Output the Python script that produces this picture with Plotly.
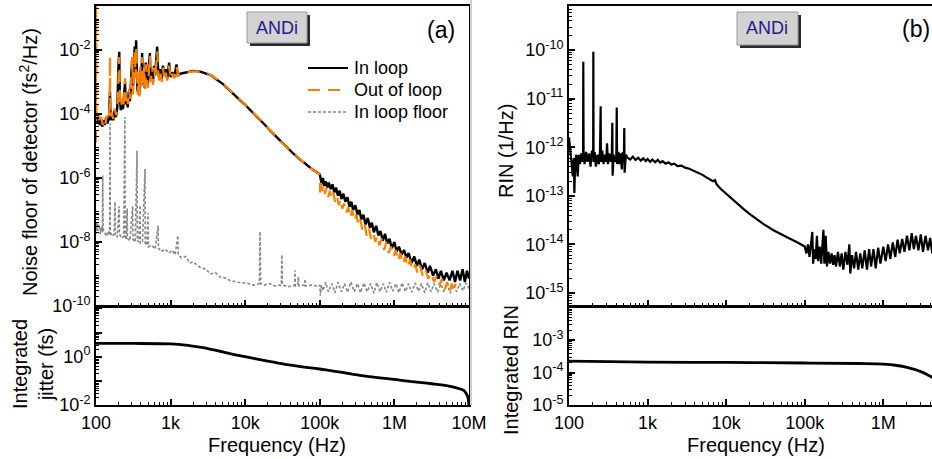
import plotly.graph_objects as go

# ---- panel (a): noise floor of detector (fs^2/Hz) ----
f_in_loop = [100, 104, 108, 112, 116, 121, 126, 131, 137, 143, 150, 154, 157, 163, 170, 178, 185, 193,
             200, 205, 209, 215, 222, 230, 238, 245, 250, 258, 266, 275, 285, 295, 305, 312, 320, 330,
             338, 345, 352, 360, 370, 380, 392, 405, 415, 425, 440, 452, 465, 480, 495, 510, 527, 540,
             560, 580, 600, 620, 645, 660, 675, 700, 730, 760, 790, 820, 860, 900, 955, 1000, 1050,
             1120, 1200, 1250, 1350, 1500, 1700, 2000, 2500, 3000, 3500, 4000, 5000, 6000, 7000, 8500,
             1e4, 1.25e4, 1.5e4, 1.9e4, 2.3e4, 2.9e4, 3.5e4, 4.4e4, 5.4e4, 6.6e4, 8.1e4, 1e5,
             1.02e5, 1.06e5, 1.1e5, 1.15e5, 1.2e5, 1.26e5, 1.32e5, 1.4e5, 1.48e5, 1.56e5, 1.65e5,
             1.75e5, 1.85e5, 1.95e5, 2.07e5, 2.2e5, 2.35e5, 2.5e5, 2.65e5, 2.8e5, 3.0e5, 3.2e5, 3.4e5,
             3.6e5, 3.85e5, 4.1e5, 4.4e5, 4.7e5, 5.0e5, 5.3e5, 5.7e5, 6.1e5, 6.5e5, 7.0e5, 7.5e5,
             8.0e5, 8.6e5, 9.2e5, 1.0e6, 1.07e6, 1.15e6, 1.25e6, 1.35e6, 1.45e6, 1.55e6, 1.7e6,
             1.85e6, 2.0e6, 2.15e6, 2.35e6, 2.55e6, 2.8e6, 3.0e6, 3.3e6, 3.6e6, 3.9e6, 4.2e6, 4.6e6,
             5.0e6, 5.5e6, 6.0e6, 6.5e6, 7.0e6, 7.6e6, 8.2e6, 8.8e6, 9.4e6, 1.0e7]
psd_in_loop = [1.0e-4, 5.0e-5, 7.9e-5, 4.5e-5, 7.1e-5, 4.0e-5, 6.3e-5, 4.5e-5, 7.9e-5, 5.0e-5, 8.9e-5,
               5.0e-4, 6.3e-5, 1.0e-4, 6.3e-5, 1.3e-4, 7.9e-5, 1.6e-4, 3.2e-3, 8.7e-3, 3.2e-4, 1.3e-4,
               2.5e-4, 1.4e-4, 4.0e-4, 1.0e-3, 2.0e-4, 3.2e-4, 1.6e-4, 5.0e-4, 2.5e-4, 1.0e-3, 5.0e-3,
               5.0e-4, 2.5e-3, 1.26e-2, 1.6e-3, 2.0e-2, 3.2e-3, 5.0e-4, 1.26e-3, 4.0e-4, 2.5e-3, 7.9e-4,
               7.9e-3, 1.0e-3, 2.5e-3, 6.3e-4, 4.0e-3, 1.26e-3, 7.9e-4, 2.5e-3, 7.9e-3, 1.26e-3, 2.0e-3,
               1.0e-3, 3.2e-3, 1.6e-3, 6.3e-3, 1.26e-2, 3.2e-3, 1.4e-3, 2.5e-3, 1.26e-3, 3.2e-3, 1.6e-3,
               2.5e-3, 1.26e-3, 4.0e-3, 1.4e-3, 2.0e-3, 1.4e-3, 3.5e-3, 1.6e-3, 1.8e-3, 1.9e-3, 2.1e-3,
               2.2e-3, 2.1e-3, 1.85e-3, 1.6e-3, 1.26e-3, 8.7e-4, 5.8e-4, 4.0e-4, 2.7e-4,
               1.9e-4, 1.15e-4, 7.4e-5, 4.2e-5, 2.6e-5, 1.5e-5, 9.3e-6, 5.8e-6, 3.8e-6, 2.6e-6, 1.8e-6,
               1.3e-6,
               8.9e-7, 6.3e-7, 1.0e-6, 5.6e-7, 7.9e-7, 5.0e-7, 7.1e-7, 4.5e-7, 6.3e-7, 3.5e-7, 5.0e-7,
               2.8e-7, 4.0e-7, 2.2e-7, 3.2e-7, 1.8e-7, 2.5e-7, 1.26e-7, 1.8e-7, 1.0e-7, 1.4e-7, 7.1e-8,
               1.0e-7, 5.0e-8, 7.1e-8, 3.5e-8, 5.6e-8, 2.8e-8, 4.0e-8, 2.0e-8, 3.2e-8, 1.6e-8, 2.2e-8,
               1.1e-8, 1.8e-8, 8.9e-9, 1.26e-8, 6.3e-9, 1.0e-8, 5.0e-9, 7.1e-9, 4.0e-9, 5.6e-9, 3.2e-9,
               4.5e-9, 2.2e-9, 3.5e-9, 1.8e-9, 2.8e-9, 1.4e-9, 2.2e-9, 1.1e-9, 1.8e-9, 8.9e-10, 1.4e-9,
               7.1e-10, 1.26e-9, 6.3e-10, 1.1e-9, 6.3e-10, 1.26e-9, 5.6e-10, 1.26e-9, 6.3e-10, 1.4e-9,
               5.6e-10, 1.26e-9, 7.1e-10]

f_out_loop = [100, 100.5, 101.5, 105, 109, 113, 118, 123, 128, 134, 140, 147, 152, 154, 156, 162, 170,
              178, 186, 194, 200, 205, 210, 216, 224, 232, 240, 246, 252, 260, 268, 277, 287, 297, 306,
              314, 322, 331, 340, 347, 354, 362, 372, 382, 394, 407, 417, 427, 442, 455, 467, 482, 497,
              512, 528, 542, 562, 582, 602, 622, 647, 662, 677, 702, 732, 762, 792, 822, 862, 902, 957,
              1002, 1055, 1125, 1205, 1260, 1350, 1500, 1700, 2000, 2500, 3000, 3500, 4000, 5000, 6000,
              7000, 8500, 1e4, 1.25e4, 1.5e4, 1.9e4, 2.3e4, 2.9e4, 3.5e4, 4.4e4, 5.4e4, 6.6e4, 8.1e4,
              1e5, 1.01e5,
              1.03e5, 1.07e5, 1.12e5, 1.17e5, 1.23e5, 1.29e5, 1.36e5, 1.44e5, 1.52e5, 1.6e5, 1.7e5,
              1.8e5, 1.9e5, 2.0e5, 2.12e5, 2.26e5, 2.4e5, 2.55e5, 2.72e5, 2.9e5, 3.1e5, 3.3e5, 3.5e5,
              3.75e5, 4.0e5, 4.25e5, 4.55e5, 4.85e5, 5.2e5, 5.55e5, 5.9e5, 6.3e5, 6.8e5, 7.3e5, 7.8e5,
              8.4e5, 9.0e5, 9.7e5, 1.04e6, 1.12e6, 1.2e6, 1.3e6, 1.4e6, 1.5e6, 1.62e6, 1.75e6, 1.9e6,
              2.05e6, 2.2e6, 2.4e6, 2.6e6, 2.85e6, 3.1e6, 3.4e6, 3.7e6, 4.0e6, 4.35e6, 4.7e6, 5.1e6,
              5.5e6, 5.9e6, 6.3e6, 6.6e6]
psd_out_loop = [1.3e-5, 0.3, 1.2e-4, 6.0e-5, 1.0e-4, 5.0e-5, 8.0e-5, 4.5e-5, 7.0e-5, 5.0e-5, 9.0e-5,
                6.0e-5, 1.5e-4, 6.0e-3, 8.0e-5, 1.1e-4, 7.0e-5, 1.5e-4, 9.0e-5, 2.0e-4, 2.5e-3, 6.0e-3,
                2.5e-4, 1.6e-4, 3.0e-4, 1.5e-4, 5.0e-4, 1.3e-3, 2.5e-4, 4.0e-4, 2.0e-4, 6.0e-4, 3.0e-4,
                1.5e-3, 6.0e-3, 4.0e-4, 3.0e-3, 1.0e-2, 1.3e-3, 1.3e-2, 2.5e-3, 4.0e-4, 1.5e-3, 3.5e-4,
                3.0e-3, 6.0e-4, 6.0e-3, 8.0e-4, 3.0e-3, 5.0e-4, 3.5e-3, 1.0e-3, 6.5e-4, 2.2e-3, 6.5e-3,
                1.0e-3, 1.8e-3, 8.0e-4, 2.8e-3, 1.3e-3, 5.0e-3, 9.0e-3, 2.5e-3, 1.1e-3, 2.0e-3, 1.0e-3,
                2.8e-3, 1.3e-3, 2.0e-3, 1.1e-3, 3.2e-3, 1.2e-3, 1.8e-3, 1.3e-3, 3.0e-3, 1.5e-3, 1.75e-3,
                1.85e-3, 2.05e-3, 2.15e-3, 2.1e-3, 1.85e-3, 1.6e-3, 1.3e-3, 9.0e-4, 6.0e-4, 4.1e-4,
                2.8e-4, 1.95e-4, 1.18e-4, 7.6e-5, 4.3e-5, 2.6e-5, 1.5e-5, 9.5e-6, 5.9e-6, 3.8e-6,
                2.6e-6, 1.8e-6, 1.3e-6, 3.5e-7,
                7.1e-7, 4.0e-7, 6.3e-7, 3.2e-7, 5.0e-7, 2.5e-7, 4.0e-7, 2.2e-7, 3.5e-7, 1.8e-7, 2.8e-7,
                1.4e-7, 2.2e-7, 1.1e-7, 1.6e-7, 7.9e-8, 1.26e-7, 5.6e-8, 1.0e-7, 4.5e-8, 7.1e-8, 3.2e-8,
                5.0e-8, 2.2e-8, 3.5e-8, 1.6e-8, 2.8e-8, 1.26e-8, 2.0e-8, 1.0e-8, 1.6e-8, 7.9e-9, 1.26e-8,
                5.6e-9, 1.0e-8, 4.5e-9, 7.1e-9, 3.5e-9, 5.6e-9, 2.5e-9, 4.5e-9, 2.0e-9, 3.5e-9, 1.6e-9,
                2.8e-9, 1.26e-9, 2.0e-9, 1.0e-9, 1.8e-9, 8.9e-10, 1.4e-9, 7.1e-10, 1.1e-9, 5.6e-10,
                8.9e-10, 4.5e-10, 7.1e-10, 3.2e-10, 5.6e-10, 2.8e-10, 5.0e-10, 2.8e-10, 5.0e-10]

f_floor = [100, 101, 103, 106, 110, 114, 118, 122, 123, 124.5, 130, 138, 146, 153, 154, 155.5, 165, 175,
           180, 182, 193, 204, 206, 220, 235, 244, 246, 255, 262, 264, 285, 310, 313, 335, 355, 358,
           375, 390, 393, 420, 454, 457, 480, 500, 504, 560, 620, 680, 685, 750, 850, 950, 1050, 1150,
           1250, 1265, 1400, 1600, 1800, 2000, 2500, 3000, 3400, 4000, 4600, 5500, 6200, 8000, 10500,
           13000, 15500, 15800, 16100, 18000, 21000, 25000, 30500, 31000, 31500, 38000, 46000, 46500,
           47000, 51000, 51500, 52000, 63000, 63500, 64000, 80000, 95000, 1e5, 1.02e5, 1.05e5,
           1.1e5, 1.2e5, 1.3e5, 1.45e5, 1.6e5, 1.75e5, 1.95e5, 2.15e5, 2.35e5, 2.6e5, 2.9e5, 3.2e5,
           3.5e5, 3.9e5, 4.3e5, 4.8e5, 5.3e5, 5.8e5, 6.4e5, 7.1e5, 7.8e5, 8.6e5, 9.5e5, 1.05e6,
           1.15e6, 1.27e6, 1.4e6, 1.55e6, 1.7e6, 1.9e6, 2.1e6, 2.3e6, 2.55e6, 2.8e6, 3.1e6, 3.4e6,
           3.8e6, 4.2e6, 4.6e6, 5.1e6, 5.6e6, 6.2e6, 6.8e6, 7.5e6, 8.3e6, 9.1e6, 1.0e7]
psd_floor = [3.0e-8, 1.8e-8, 4.0e-8, 2.2e-8, 3.5e-8, 1.8e-8, 3.0e-8, 2.0e-8, 1.2e-6, 2.5e-8, 2.0e-8,
             1.5e-8, 2.2e-8, 1.6e-8, 5.0e-5, 2.0e-8, 1.5e-8, 1.8e-8, 1.8e-7, 1.6e-8, 1.4e-8, 1.3e-7,
             1.8e-8, 1.3e-8, 1.5e-8, 8.0e-5, 1.4e-8, 1.2e-8, 1.1e-7, 1.3e-8, 1.1e-8, 1.3e-7, 1.2e-8,
             1.0e-8, 7.0e-6, 1.1e-8, 1.0e-8, 1.4e-7, 9.0e-9, 1.0e-8, 1.9e-6, 8.0e-9, 9.0e-9, 8.0e-8,
             7.0e-9, 8.0e-9, 6.0e-9, 3.2e-8, 6.5e-9, 5.0e-9, 6.0e-9, 4.5e-9, 5.5e-9, 4.0e-9, 1.6e-8,
             4.0e-9, 3.2e-9, 3.5e-9, 2.2e-9, 2.4e-9, 1.6e-9, 1.4e-9, 1.0e-9, 1.1e-9, 8.0e-10, 7.5e-10,
             6.3e-10, 5.5e-10, 5.2e-10, 4.5e-10, 5.0e-10, 2.1e-8, 5.0e-10, 4.5e-10, 5.0e-10, 4.2e-10,
             4.5e-10, 4.0e-9, 4.5e-10, 4.0e-10, 4.5e-10, 1.3e-9, 4.2e-10, 4.5e-10, 8.0e-10, 4.3e-10,
             4.5e-10, 7.0e-10, 4.2e-10, 4.5e-10, 4.0e-10, 4.5e-10, 2.1e-10, 4.5e-10,
             3.0e-10, 5.5e-10, 2.8e-10, 5.0e-10, 2.6e-10, 5.5e-10, 2.8e-10, 5.0e-10, 2.7e-10, 5.6e-10,
             2.8e-10, 5.0e-10, 2.6e-10, 5.3e-10, 2.8e-10, 5.0e-10, 2.5e-10, 5.4e-10, 2.8e-10, 5.0e-10,
             2.7e-10, 5.5e-10, 2.9e-10, 5.0e-10, 2.6e-10, 5.3e-10, 2.8e-10, 5.0e-10, 2.7e-10, 5.2e-10,
             2.9e-10, 5.0e-10, 2.6e-10, 5.3e-10, 2.8e-10, 5.0e-10, 2.7e-10, 4.8e-10, 2.8e-10, 5.0e-10,
             2.5e-10, 4.5e-10, 2.8e-10, 5.0e-10, 3.0e-10, 5.2e-10, 3.5e-10]

f_jitter = [100, 316, 1000, 1585, 2000, 3160, 5000, 7080, 1e4, 1.4e4, 2e4, 3.16e4, 5e4, 7e4, 1e5, 1.4e5,
            2e5, 3.16e5, 5e5, 7e5, 1e6, 1.4e6, 2e6, 3.16e6, 5e6, 7e6, 8.5e6, 9.3e6, 9.7e6, 9.9e6, 1e7]
jitter = [3.55, 3.55, 3.39, 3.05, 2.75, 2.19, 1.58, 1.23, 1.0, 0.81, 0.66, 0.51, 0.41, 0.355, 0.31, 0.263,
          0.224, 0.178, 0.145, 0.129, 0.115, 0.1, 0.089, 0.076, 0.063, 0.05, 0.04, 0.028, 0.02, 0.0126,
          0.0063]

# ---- panel (b): RIN ----
f_rin = [100, 104, 108, 112, 115, 117, 120, 124, 127, 129, 133, 138, 143, 148, 151, 152, 153.5, 158,
         165, 172, 180, 188, 196, 203, 204, 205.5, 212, 220, 230, 240, 248, 253, 255, 265, 275, 287,
         297, 305, 313, 325, 340, 350, 356, 359, 370, 385, 400, 405, 410, 425, 440, 455, 470, 485,
         500, 505, 510, 530, 550, 600, 650, 700, 760, 820, 880, 950, 1000, 1080, 1150, 1250, 1350,
         1450, 1550, 1700, 1850, 2000, 2200, 2400, 2700, 3000, 3400, 3800, 4300, 5000, 5600, 6200,
         6800, 7200, 7600, 8500, 1e4, 1.2e4, 1.4e4, 1.7e4, 2e4, 2.5e4, 3e4, 4e4, 5e4, 6.5e4, 8e4,
         1e5,
         1.05e5, 1.1e5, 1.15e5, 1.2e5, 1.25e5, 1.28e5, 1.33e5, 1.38e5, 1.43e5, 1.48e5, 1.55e5,
         1.62e5, 1.68e5, 1.73e5, 1.78e5, 1.85e5, 1.92e5, 2.0e5, 2.1e5, 2.2e5, 2.3e5, 2.4e5, 2.5e5,
         2.65e5, 2.8e5, 2.95e5, 3.1e5, 3.3e5, 3.5e5, 3.7e5, 3.8e5, 4.0e5, 4.25e5, 4.5e5, 4.8e5,
         5.1e5, 5.4e5, 5.8e5, 6.2e5, 6.6e5, 7.0e5, 7.5e5, 8.0e5, 8.6e5, 9.2e5, 1.0e6, 1.07e6,
         1.15e6, 1.23e6, 1.32e6, 1.42e6, 1.52e6, 1.62e6, 1.74e6, 1.86e6, 2.0e6, 2.15e6, 2.3e6,
         2.45e6, 2.6e6, 2.8e6, 3.0e6, 3.2e6, 3.45e6, 3.7e6, 3.95e6, 4.2e6, 4.4e6]
rin = [1.6e-12, 9.0e-13, 5.0e-13, 2.5e-13, 6.0e-13, 1.15e-13, 5.0e-13, 7.0e-13, 3.5e-13, 2.5e-13,
       7.0e-13, 4.5e-13, 7.5e-13, 5.0e-13, 6.0e-13, 5.8e-11, 6.5e-13, 4.5e-13, 8.0e-13, 5.0e-13,
       7.5e-13, 4.0e-13, 8.5e-13, 6.0e-13, 9.3e-11, 5.0e-13, 8.0e-13, 4.0e-13, 7.0e-13, 4.5e-13,
       8.0e-13, 7.0e-12, 5.0e-13, 8.5e-13, 4.5e-13, 7.0e-13, 5.0e-13, 1.2e-12, 4.5e-13, 7.5e-13,
       5.0e-13, 6.0e-13, 3.2e-12, 2.6e-13, 7.0e-13, 5.0e-13, 6.0e-13, 6.6e-12, 4.5e-13, 8.0e-13,
       4.5e-13, 7.5e-13, 3.5e-13, 8.0e-13, 6.0e-13, 2.5e-12, 3.0e-13, 7.0e-13, 6.2e-13, 5.6e-13,
       6.4e-13, 5.5e-13, 6.1e-13, 5.3e-13, 5.9e-13, 5.2e-13, 5.7e-13, 5.0e-13, 5.6e-13, 4.9e-13,
       5.5e-13, 4.8e-13, 5.2e-13, 4.6e-13, 4.9e-13, 4.4e-13, 4.6e-13, 4.1e-13, 4.2e-13, 3.8e-13,
       3.6e-13, 3.3e-13, 3.1e-13, 2.7e-13, 2.4e-13, 2.2e-13, 2.0e-13, 2.1e-13, 1.7e-13, 1.4e-13,
       1.1e-13, 8.5e-14, 6.8e-14, 5.2e-14, 4.2e-14, 3.2e-14, 2.6e-14, 1.95e-14, 1.6e-14, 1.3e-14,
       1.1e-14, 9.0e-15,
       6.5e-15, 1.0e-14, 5.5e-15, 9.0e-15, 1.8e-14, 4.0e-15, 8.0e-15, 5.0e-15, 1.5e-14, 4.5e-15,
       9.0e-15, 4.0e-15, 1.2e-14, 2.0e-14, 4.0e-15, 1.5e-14, 3.5e-15, 7.0e-15, 4.0e-15, 6.5e-15,
       3.8e-15, 6.0e-15, 3.5e-15, 7.0e-15, 3.5e-15, 6.5e-15, 3.0e-15, 7.0e-15, 3.8e-15, 1.0e-14,
       2.5e-15, 6.0e-15, 3.2e-15, 7.0e-15, 3.0e-15, 6.5e-15, 3.2e-15, 7.5e-15, 3.0e-15, 8.0e-15,
       3.5e-15, 8.0e-15, 3.2e-15, 8.5e-15, 4.0e-15, 9.0e-15, 4.5e-15, 1.0e-14, 5.0e-15, 1.1e-14,
       5.5e-15, 1.25e-14, 6.5e-15, 1.3e-14, 7.0e-15, 1.5e-14, 7.5e-15, 1.7e-14, 8.0e-15, 1.5e-14,
       7.5e-15, 1.6e-14, 7.0e-15, 1.5e-14, 7.5e-15, 1.35e-14, 6.5e-15, 1.2e-14]

f_int_rin = [100, 1000, 1e4, 1e5, 5e5, 1e6, 1.5e6, 2e6, 2.5e6, 3e6, 3.5e6, 4.2e6, 4.4e6]
int_rin = [2.25e-4, 2.1e-4, 2.05e-4, 1.97e-4, 1.9e-4, 1.82e-4, 1.65e-4, 1.45e-4, 1.25e-4, 1.07e-4,
           9.0e-5, 7.1e-5, 6.3e-5]

freq_ticks = [100, 1e3, 1e4, 1e5, 1e6, 1e7]
freq_labels = ["100", "1k", "10k", "100k", "1M", "10M"]

legend_names = ["In loop", "Out of loop", "In loop floor"]

W, H = 932, 459
FONT = "Liberation Sans, Arial, sans-serif"
ORANGE = "#ff8000"
GRAY = "#858585"
ORANGE_DASH = "12px,8px"
GRAY_DASH = "3px,2px"


def px(x):
    return x / W


def py(y):
    return 1 - y / H


def minor_vals(lo, hi):
    return [m * 10 ** d for d in range(lo, hi) for m in range(2, 10)]


def sup(e):
    return "10<sup>%d</sup>" % e


def axis(domain, rng, tickvals, ticktext, minor, anchor, showlabels=True):
    return dict(type="log", domain=domain, range=rng, anchor=anchor,
                showline=True, mirror=True, linecolor="black", linewidth=2,
                ticks="inside", ticklen=6, tickwidth=1.5, tickcolor="black",
                tickmode="array", tickvals=tickvals, ticktext=ticktext,
                showticklabels=showlabels, showgrid=False, zeroline=False,
                minor=dict(ticks="inside", ticklen=3, tickwidth=1, tickcolor="black",
                           tickmode="array", tickvals=minor, showgrid=False),
                tickfont=dict(family=FONT, size=18, color="black"), automargin=False)


fig = go.Figure()
fig.add_trace(go.Scatter(x=f_floor, y=psd_floor, mode="lines", name=legend_names[2],
                         line=dict(color=GRAY, width=1.6, dash=GRAY_DASH), xaxis="x", yaxis="y"))
fig.add_trace(go.Scatter(x=f_in_loop, y=psd_in_loop, mode="lines", name=legend_names[0],
                         line=dict(color="black", width=2.4), xaxis="x", yaxis="y"))
fig.add_trace(go.Scatter(x=f_out_loop, y=psd_out_loop, mode="lines", name=legend_names[1],
                         line=dict(color=ORANGE, width=2.2, dash=ORANGE_DASH), xaxis="x", yaxis="y"))
fig.add_trace(go.Scatter(x=f_jitter, y=jitter, mode="lines", line_shape="spline",
                         line=dict(color="black", width=2.8), xaxis="x2", yaxis="y2"))
fig.add_trace(go.Scatter(x=f_rin, y=rin, mode="lines",
                         line=dict(color="black", width=2.2), xaxis="x3", yaxis="y3"))
fig.add_trace(go.Scatter(x=f_int_rin, y=int_rin, mode="lines", line_shape="spline",
                         line=dict(color="black", width=2.8), xaxis="x4", yaxis="y4"))

dom_xa = [px(96), px(469)]
dom_xb = [px(569), 1.0]
dom_top = [py(306), py(6)]
dom_bot = [py(405), py(307)]

fig.update_layout(
    width=W, height=H, margin=dict(l=0, r=0, t=0, b=0),
    paper_bgcolor="white", plot_bgcolor="white", showlegend=False,
    font=dict(family=FONT, size=18, color="black"),
    xaxis=axis(dom_xa, [2, 7], freq_ticks, freq_labels, minor_vals(2, 7), "y", False),
    yaxis=axis(dom_top, [-10, -0.63], [1e-10, 1e-8, 1e-6, 1e-4, 1e-2],
               [sup(e) for e in (-10, -8, -6, -4, -2)], minor_vals(-10, 0), "x"),
    xaxis2=axis(dom_xa, [2, 7], freq_ticks, freq_labels, minor_vals(2, 7), "y2"),
    yaxis2=axis(dom_bot, [-2, 2.06], [1e-2, 1e-1, 1, 10, 100],
                [sup(-2), "", sup(0), "", ""], minor_vals(-2, 2), "x2"),
    xaxis3=axis(dom_xb, [2, 6.62], freq_ticks, freq_labels, minor_vals(2, 7), "y3", False),
    yaxis3=axis(dom_top, [-15.27, -9.09], [1e-15, 1e-14, 1e-13, 1e-12, 1e-11, 1e-10],
                [sup(e) for e in range(-15, -9)], minor_vals(-16, -9), "x3"),
    xaxis4=axis(dom_xb, [2, 6.62], freq_ticks, freq_labels, minor_vals(2, 7), "y4"),
    yaxis4=axis(dom_bot, [-5, -1.98], [1e-5, 1e-4, 1e-3],
                [sup(e) for e in (-5, -4, -3)], minor_vals(-5, -2), "x4"),
)

shapes = [
    # ANDi label boxes with drop shadows
    dict(type="rect", x0=px(250), x1=px(310), y0=py(46), y1=py(15), fillcolor="#2a2a2a",
         line=dict(width=0)),
    dict(type="rect", x0=px(247), x1=px(307), y0=py(43), y1=py(12), fillcolor="#d2d2d2",
         line=dict(color="#9a9a9a", width=1)),
    dict(type="rect", x0=px(740), x1=px(801), y0=py(48), y1=py(15), fillcolor="#2a2a2a",
         line=dict(width=0)),
    dict(type="rect", x0=px(737), x1=px(798), y0=py(45), y1=py(12), fillcolor="#d2d2d2",
         line=dict(color="#9a9a9a", width=1)),
    # thin separator between the two panels
    dict(type="line", x0=px(471), x1=px(471), y0=py(405), y1=1, line=dict(color="#cfcfcf", width=2)),
    # legend samples
    dict(type="line", x0=px(308), x1=px(348), y0=py(68), y1=py(68), line=dict(color="black", width=2)),
    dict(type="line", x0=px(308), x1=px(348), y0=py(90), y1=py(90),
         line=dict(color=ORANGE, width=2.2, dash=ORANGE_DASH)),
    dict(type="line", x0=px(308), x1=px(348), y0=py(112), y1=py(112),
         line=dict(color=GRAY, width=1.6, dash=GRAY_DASH)),
]
for s in shapes:
    s.update(xref="paper", yref="paper")
fig.update_layout(shapes=shapes)

ann = [
    dict(x=px(277), y=py(28), text="ANDi", size=18, color="#1c1c8a"),
    dict(x=px(767), y=py(28), text="ANDi", size=18, color="#1c1c8a"),
    dict(x=px(441), y=py(30), text="(a)", size=23),
    dict(x=px(916), y=py(29), text="(b)", size=23),
    dict(x=px(28), y=py(162), text="Noise floor of detector (fs<sup>2</sup>/Hz)", textangle=-90, size=20),
    dict(x=px(33), y=py(364), text="Integrated<br>jitter (fs)", textangle=-90, size=20),
    dict(x=px(506), y=py(151), text="RIN (1/Hz)", textangle=-90, size=20),
    dict(x=px(511), y=py(370), text="Integrated RIN", textangle=-90, size=20),
    dict(x=px(277), y=py(445), text="Frequency (Hz)", size=20),
    dict(x=px(756), y=py(445), text="Frequency (Hz)", size=20),
]
for i, name in enumerate(legend_names):
    ann.append(dict(x=px(352), y=py(68 + 22 * i), text=name, size=18, xanchor="left"))
for a in ann:
    size = a.pop("size")
    color = a.pop("color", "black")
    a.setdefault("xanchor", "center")
    a.update(xref="paper", yref="paper", showarrow=False, yanchor="middle",
             font=dict(family=FONT, size=size, color=color))
fig.update_layout(annotations=ann)

fig.write_html("out.html", config={"displayModeBar": False},
               post_script="document.body.style.margin='0';document.body.style.overflow='hidden';")
